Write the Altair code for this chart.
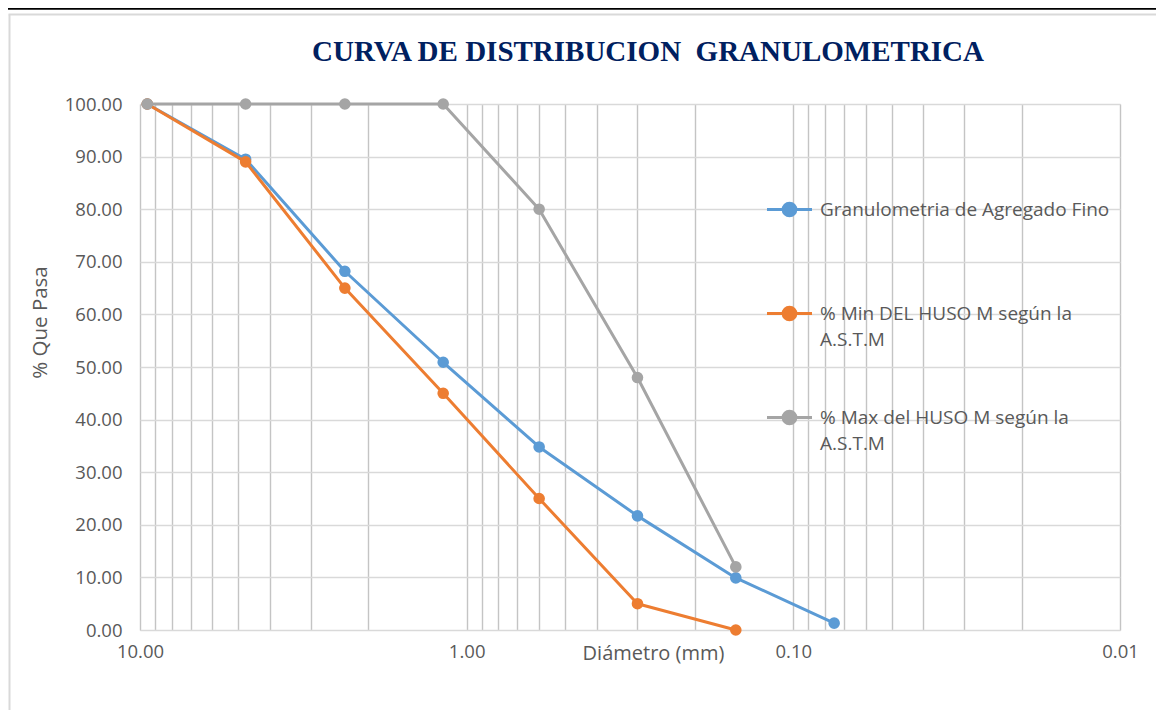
import altair as alt
import pandas as pd

# ---- data ----
sieve_mm = [9.5, 4.75, 2.36, 1.18, 0.6, 0.3, 0.15, 0.075]
fino = [100.0, 89.5, 68.2, 50.9, 34.8, 21.7, 9.9, 1.3]
huso_min = [100.0, 89.0, 65.0, 45.0, 25.0, 5.0, 0.0]
huso_max = [100.0, 100.0, 100.0, 100.0, 80.0, 48.0, 12.0]

series_names = [
    "Granulometria de Agregado Fino",
    "% Min DEL HUSO M según la A.S.T.M",
    "% Max del HUSO M según la A.S.T.M",
]
series_colors = ["#5B9BD5", "#ED7D31", "#A5A5A5"]

x_grid_values = [0.01, 0.02, 0.03, 0.04, 0.05, 0.06, 0.07, 0.08, 0.09,
                 0.1, 0.2, 0.3, 0.4, 0.5, 0.6, 0.7, 0.8, 0.9,
                 1, 2, 3, 4, 5, 6, 7, 8, 9, 10]
y_ticks = [0, 10, 20, 30, 40, 50, 60, 70, 80, 90, 100]

title_text = "CURVA DE DISTRIBUCION\u00a0 GRANULOMETRICA"
x_title = "Diámetro (mm)"
y_title = "% Que Pasa"

rows = []
for vals, name in zip([fino, huso_min, huso_max], series_names):
    for d, v in zip(sieve_mm, vals):
        rows.append({"diam": d, "pasa": v, "serie": name})
df = pd.DataFrame(rows)

FONT = "Open Sans"
TXT = "#595959"

color = alt.Color(
    "serie:N",
    scale=alt.Scale(domain=series_names, range=series_colors),
    legend=alt.Legend(
        title=None,
        orient="none",
        legendX=640,
        legendY=96,
        direction="vertical",
        symbolType="M-3.55,0L3.55,0M1,0A1,1,0,1,1,-1,0A1,1,0,1,1,1,0Z",
        symbolSize=161,
        symbolStrokeWidth=3,
        labelFont=FONT,
        labelFontSize=19,
        labelColor=TXT,
        labelOffset=21,
        labelLimit=400,
        rowPadding=55,
        labelExpr="indexof(datum.label, ' A.S.T.M') > 0 ? [replace(datum.label, ' A.S.T.M', ''), 'A.S.T.M'] : [datum.label, ' ']",
    ),
)

x_enc = alt.X(
    "diam:Q",
    scale=alt.Scale(type="log", domain=[0.01, 10], reverse=True, nice=False),
    axis=alt.Axis(
        values=x_grid_values,
        labelExpr="abs(log(datum.value)/LN10 - round(log(datum.value)/LN10)) < 0.001 ? format(datum.value, '.2f') : ''",
        labelOverlap=False,
        labelFlush=False,
        labelFont=FONT,
        labelFontSize=18.5,
        labelColor=TXT,
        labelPadding=12,
        ticks=False,
        domain=False,
        grid=True,
        gridColor="#C4C4C4",
        gridWidth=1.4,
        title=x_title,
        titleFont=FONT,
        titleFontSize=20,
        titleFontWeight="normal",
        titleColor=TXT,
        titleX=513,
        titleY=13,
        titleAlign="center",
        titleBaseline="top",
    ),
)

y_enc = alt.Y(
    "pasa:Q",
    scale=alt.Scale(domain=[0, 100], nice=False),
    axis=alt.Axis(
        values=y_ticks,
        format=".2f",
        labelFont=FONT,
        labelFontSize=18.5,
        labelColor=TXT,
        labelPadding=18,
        ticks=False,
        domain=False,
        grid=True,
        gridColor="#D9D9D9",
        gridWidth=1.4,
        title=y_title,
        titleFont=FONT,
        titleFontSize=20.5,
        titleFontWeight="normal",
        titleColor=TXT,
        titleAngle=-90,
        titleX=-100,
        titleY=218,
        titleAlign="center",
        titleBaseline="middle",
    ),
)

# decorative frame of the spreadsheet chart area (not data)
frame_df = pd.DataFrame({"k": [0]})
frame_left = alt.Chart(frame_df).mark_rule(color="#D9D9D9", strokeWidth=2).encode(
    x=alt.value(-130.5), y=alt.value(-89.5), y2=alt.value(614)
)
frame_top = alt.Chart(frame_df).mark_rule(color="#D9D9D9", strokeWidth=2).encode(
    x=alt.value(-131.5), x2=alt.value(1020), y=alt.value(-89.5)
)
sheet_line = alt.Chart(frame_df).mark_rule(color="#000000", strokeWidth=2.5).encode(
    x=alt.value(-140), x2=alt.value(1020), y=alt.value(-95.5)
)

layers = [frame_left, frame_top, sheet_line]
for name in series_names:
    base = alt.Chart(df).transform_filter(alt.datum.serie == name)
    layers.append(
        base.mark_line(strokeWidth=3, strokeJoin="round", strokeCap="round").encode(
            x=x_enc, y=y_enc, color=color
        )
    )
    layers.append(
        base.mark_point(filled=True, size=135, opacity=1).encode(
            x=x_enc, y=y_enc, color=color
        )
    )

chart = (
    alt.layer(*layers)
    .properties(
        width=980,
        height=526,
        autosize=alt.AutoSizeParams(type="none"),
        padding={"left": 132, "top": 96, "right": 36, "bottom": 80},
        title=alt.TitleParams(
            text=title_text,
            font="Liberation Serif",
            fontSize=29,
            fontWeight="bold",
            color="#002060",
            anchor="middle",
            frame="group",
            baseline="alphabetic",
            offset=3,
            dx=18,
            dy=86,
        ),
    )
    .configure_view(stroke=None)
    .configure(background="white", style={"guide-label": {"lineHeight": 26}})
)

chart.save("out.html", embed_options={"renderer": "svg", "actions": False})
